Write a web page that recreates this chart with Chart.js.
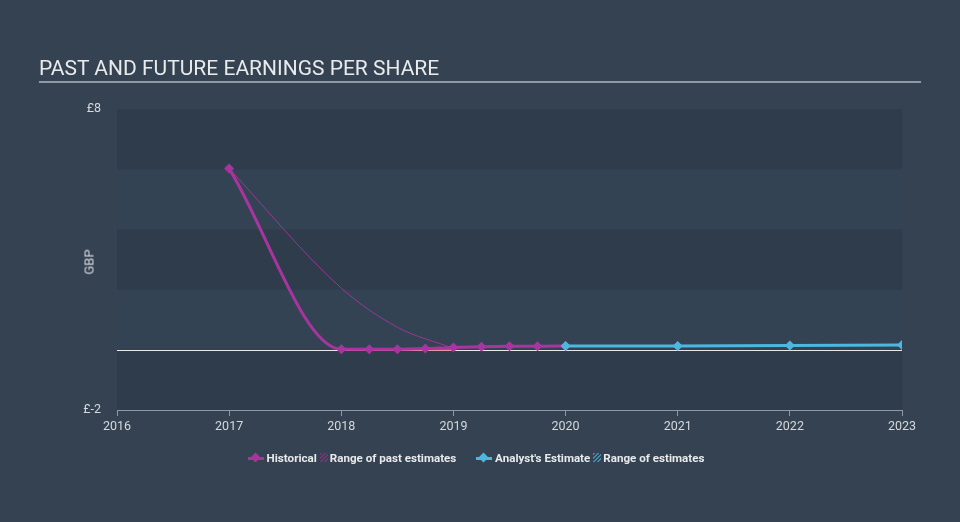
<!DOCTYPE html>
<html>
<head>
<meta charset="utf-8">
<script src="https://cdn.jsdelivr.net/npm/chart.js@4/dist/chart.umd.min.js"></script>
<style>
  html, body { margin:0; padding:0; background:#344252; }
  #wrap { position:relative; width:960px; height:522px; background:#344252; overflow:hidden; font-family: Roboto, "Noto Sans", sans-serif; }
  #c { position:absolute; left:0; top:0; }
  #title { position:absolute; left:39px; top:56px; font-size:21px; color:#e8eaec; letter-spacing:0; }
  #rule { position:absolute; left:39px; top:81px; width:882px; height:2px; background:#8e99a4; }
  #ytitle { position:absolute; left:89px; top:262px; transform:translate(-50%,-50%) rotate(-90deg); font-size:13px; color:#d5d9dd; }
  #legend { position:absolute; left:0; width:952px; top:450px; text-align:center; font-size:11.6px; font-weight:bold; color:#e8eaec; white-space:nowrap; }
  #legend span { display:inline-block; vertical-align:middle; }
  .dia { position:relative; width:16px; height:10px; margin-right:3px; }
  .dia::before { content:""; position:absolute; left:0; top:4px; width:16px; height:3px; background:currentColor; }
  .dia::after { content:""; position:absolute; left:4px; top:1px; width:7px; height:7px; background:currentColor; transform:rotate(45deg); }
  .hatch { width:8px; height:9px; margin:0 2px 0 3px; }
</style>
</head>
<body>
<div id="wrap">
  <canvas id="c" width="960" height="522"></canvas>
  <div id="title">PAST AND FUTURE EARNINGS PER SHARE</div>
  <div id="rule"></div>
  <div id="ytitle">GBP</div>
  <div id="legend">
    <span class="dia" style="color:#a8359f"></span><span>Historical</span><span class="hatch" style="background:repeating-linear-gradient(135deg,#7a3577 0 1.5px,transparent 1.5px 3px)"></span><span>Range of past estimates</span>
    <span style="width:14px"></span>
    <span class="dia" style="color:#4cb8e0"></span><span>Analyst's Estimate</span><span class="hatch" style="background:repeating-linear-gradient(135deg,#3f8fb3 0 1.5px,transparent 1.5px 3px)"></span><span>Range of estimates</span>
  </div>
</div>
<script>
// ---- data ----
const xTickLabels = ['2016','2017','2018','2019','2020','2021','2022','2023'];
const yTickLabels = ['£-2','£8'];
const historicalX = [2017, 2018, 2018.25, 2018.5, 2018.75, 2019, 2019.25, 2019.5, 2019.75, 2020];
const historicalY = [6.02, 0.02, 0.02, 0.02, 0.04, 0.08, 0.10, 0.12, 0.12, 0.13];
const pastEstX = [2017, 2018, 2018.5, 2019];
const pastEstY = [6.02, 2.05, 0.75, 0.05];
const pastRangeX = [2018, 2018.75, 2019];
const pastRangeY = [0.0, 0.0, 0.0];
const analystX = [2020, 2021, 2022, 2023];
const analystY = [0.13, 0.13, 0.14, 0.16];

const pts = (xs, ys) => xs.map((x, i) => ({x, y: ys[i]}));

const bandsPlugin = {
  id: 'bands',
  beforeDatasetsDraw(chart) {
    const {ctx, chartArea: a, scales: {y}} = chart;
    ctx.save();
    for (let v = -2; v < 8; v += 2) {
      const top = y.getPixelForValue(v + 2), bot = y.getPixelForValue(v);
      const idx = Math.round((v + 2) / 2);
      ctx.fillStyle = (idx % 2 === 0) ? '#2f3c4b' : '#344353';
      ctx.fillRect(a.left, top, a.right - a.left, bot - top);
    }
    const z = Math.round(y.getPixelForValue(0)) + 0.5;
    ctx.strokeStyle = '#e6e8ea';
    ctx.lineWidth = 1;
    ctx.beginPath(); ctx.moveTo(a.left, z); ctx.lineTo(a.right, z); ctx.stroke();
    ctx.restore();
  }
};

new Chart(document.getElementById('c'), {
  type: 'line',
  data: {
    datasets: [
      { data: pts(pastRangeX, pastRangeY), borderColor: '#e0405a', borderWidth: 1.5, pointRadius: 0, order: 4 },
      { data: pts(pastEstX, pastEstY), borderColor: 'rgba(168,53,159,0.85)', borderWidth: 1, pointRadius: 0, cubicInterpolationMode: 'monotone', order: 3 },
      { data: pts(analystX, analystY), borderColor: '#4cb8e0', backgroundColor: '#4cb8e0', borderWidth: 3, pointStyle: 'rectRot', pointRadius: 5, pointBorderWidth: 0, order: 1 },
      { data: pts(historicalX, historicalY), borderColor: '#a8359f', backgroundColor: '#a8359f', borderWidth: 3, pointStyle: 'rectRot', pointRadius: 5, pointBorderWidth: 0, cubicInterpolationMode: 'monotone', order: 2 }
    ]
  },
  options: {
    responsive: false,
    animation: false,
    layout: { padding: { top: 109, right: 58, left: 0, bottom: 0 } },
    plugins: { legend: { display: false }, tooltip: { enabled: false } },
    scales: {
      x: {
        type: 'linear', min: 2016, max: 2023,
        afterFit: s => { s.height = 112; },
        afterBuildTicks: s => { s.ticks = xTickLabels.map(t => ({value: Number(t)})); },
        ticks: { callback: (v) => xTickLabels[xTickLabels.indexOf(String(v))], color: '#d5d9dd', font: { family: 'Roboto', size: 12.5 }, padding: 3, maxRotation: 0, autoSkip: false },
        grid: { drawOnChartArea: false, drawTicks: true, tickLength: 6, tickColor: '#8e99a4' },
        border: { display: true, color: '#8e99a4', width: 1 }
      },
      y: {
        min: -2, max: 8,
        afterFit: s => { s.width = 117; },
        afterBuildTicks: s => { s.ticks = [{value: -2}, {value: 8}]; },
        ticks: { callback: (v) => yTickLabels[v === 8 ? 1 : 0], color: '#d5d9dd', font: { family: 'Roboto', size: 12.5 }, padding: 8 },
        grid: { display: false },
        border: { display: false }
      }
    }
  },
  plugins: [bandsPlugin]
});
</script>
</body>
</html>
